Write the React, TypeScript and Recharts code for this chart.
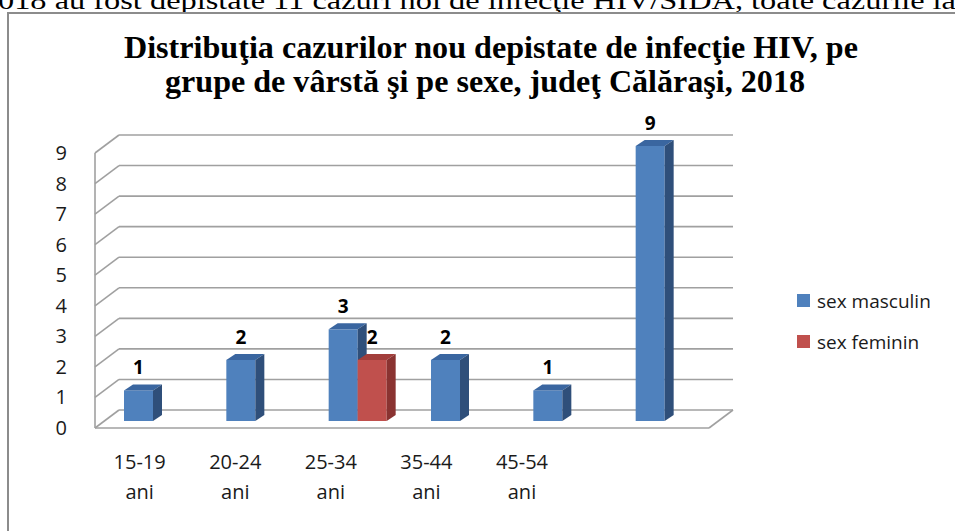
import React from "react";
import { BarChart, Bar, XAxis, YAxis, CartesianGrid, Legend, LabelList, Customized } from "recharts";

const categories = ["15-19 ani", "20-24 ani", "25-34 ani", "35-44 ani", "45-54 ani", ""];
const masculin = [1, 2, 3, 2, 1, 9];
const feminin: (number | null)[] = [null, null, 2, null, null, null];
const yTicks = [0, 1, 2, 3, 4, 5, 6, 7, 8, 9];
const seriesNames = ["sex masculin", "sex feminin"];

const pageText = "018 au fost depistate 11 cazuri noi de infecţie HIV/SIDA, toate cazurile la";
const titleLines = [
  "Distribuţia cazurilor nou depistate de infecţie HIV, pe",
  "grupe de vârstă şi pe sexe, judeţ Călăraşi, 2018",
];

const data = categories.map((name, i) => ({ name, masculin: masculin[i], feminin: feminin[i] }));

const W = 955;
const H = 531;
const Y_AXIS_W = 60;
const X_AXIS_H = 30;
// plot area: left 102, right 716, top 146, bottom 421
const margin = { top: 146, right: 239, bottom: 110 - X_AXIS_H, left: 102 - Y_AXIS_W };
const PLOT_TOP = 146;
const PLOT_BOTTOM = 421;

// 3d offsets: front plane and back wall relative to the bar plane
const FX = 7, FY = 7;
const BX = 17, BY = 11;
// bar depth
const DX = 9, DY = 6;

const gridColor = "#a0a0a0";
const font = "'Open Sans', 'Noto Sans', sans-serif";

const gridLine = (props: any) => {
  const { x1, y1, x2, index } = props;
  const isFloor = y1 >= PLOT_BOTTOM - 0.5;
  return (
    <g key={`g-${index}-${y1}`}>
      <line x1={x1 + BX} y1={y1 - BY} x2={x2 + BX} y2={y1 - BY} stroke={gridColor} strokeWidth={1.6} />
      <line x1={x1 - FX} y1={y1 + FY} x2={x1 + BX} y2={y1 - BY} stroke={gridColor} strokeWidth={1.6} />
      {isFloor && (
        <>
          <line x1={x1 - FX} y1={y1 + FY} x2={x2 - FX} y2={y1 + FY} stroke={gridColor} strokeWidth={1.6} />
          <line x1={x2 - FX} y1={y1 + FY} x2={x2 + BX} y2={y1 - BY} stroke={gridColor} strokeWidth={1.6} />
          <line x1={x1 - FX} y1={y1 + FY} x2={x1 - FX} y2={PLOT_TOP + FY} stroke={gridColor} strokeWidth={1.6} />
        </>
      )}
    </g>
  );
};

const makeBar = (front: string, top: string, side: string) => (props: any) => {
  const { x, y, width, height } = props;
  if (!height || height <= 0) return <g />;
  return (
    <g>
      <rect x={x} y={y} width={width} height={height} fill={front} />
      <polygon points={`${x},${y} ${x + DX},${y - DY} ${x + width + DX},${y - DY} ${x + width},${y}`} fill={top} />
      <polygon
        points={`${x + width},${y} ${x + width + DX},${y - DY} ${x + width + DX},${y + height - DY} ${x + width},${y + height}`}
        fill={side}
      />
    </g>
  );
};

const BarLabel = (props: any) => {
  const { x, y, width, value } = props;
  if (value == null || value === 0) return null;
  return (
    <text x={x + width / 2} y={y - 16} textAnchor="middle" fontFamily={font} fontWeight={700} fontSize={19} fill="#000">
      {value}
    </text>
  );
};

const YTick = (props: any) => {
  const { x, y, payload } = props;
  return (
    <text x={x - 27} y={y + FY + 7} textAnchor="end" fontFamily={font} fontSize={20} fill="#1a1a1a">
      {payload.value}
    </text>
  );
};

const XTick = (props: any) => {
  const { x, y, payload } = props;
  const [a, b] = String(payload.value).split(" ");
  // labels sit on the front edge, slightly compressed by the perspective
  const lx = 139.5 + (x - 153) * 0.934;
  return (
    <g>
      <text x={lx} y={y + 40} textAnchor="middle" fontFamily={font} fontSize={20} fill="#1a1a1a">{a}</text>
      <text x={lx} y={y + 70} textAnchor="middle" fontFamily={font} fontSize={20} fill="#1a1a1a">{b}</text>
    </g>
  );
};

const LegendContent = (props: any) => {
  const items = [...(props.payload || [])].sort(
    (a: any, b: any) => seriesNames.indexOf(a.value) - seriesNames.indexOf(b.value)
  );
  return (
    <div style={{ fontFamily: font, fontSize: 19, color: "#1a1a1a" }}>
      {items.map((p: any) => (
        <div key={p.value} style={{ display: "flex", alignItems: "center", height: 41 }}>
          <span style={{ display: "inline-block", width: 13, height: 13, background: p.color, marginRight: 7 }} />
          <span>{p.value}</span>
        </div>
      ))}
    </div>
  );
};

const Title = () => (
  <g>
    <text x={491} y={58} textAnchor="middle" fontFamily="'Liberation Serif', serif" fontWeight={700} fontSize={31}
      textLength={734} lengthAdjust="spacingAndGlyphs">{titleLines[0]}</text>
    <text x={485} y={92} textAnchor="middle" fontFamily="'Liberation Serif', serif" fontWeight={700} fontSize={31}
      textLength={640} lengthAdjust="spacingAndGlyphs">{titleLines[1]}</text>
  </g>
);

export default function App() {
  return (
    <div style={{ position: "absolute", left: 0, top: 0, width: W, height: H, overflow: "hidden", background: "#fff" }}>
      <svg width={W} height={20} style={{ position: "absolute", left: 0, top: 0 }}>
        <text x={-2} y={9} fontFamily="'Liberation Serif', serif" fontSize={25} textLength={958} lengthAdjust="spacingAndGlyphs">
          {pageText}
        </text>
      </svg>
      <div style={{ position: "absolute", left: 7, top: 12, width: 980, height: 560, borderLeft: "2px solid #8c8c8c", borderTop: "2px solid #8c8c8c" }} />
      <div style={{ position: "absolute", left: 0, top: 0 }}>
        <BarChart width={W} height={H} data={data} margin={margin} barGap={0}>
          <Customized component={Title} />
          <CartesianGrid vertical={false} horizontal={gridLine} />
          <XAxis dataKey="name" axisLine={false} tickLine={false} tick={<XTick />} interval={0} height={X_AXIS_H} />
          <YAxis domain={[0, 9]} ticks={yTicks} interval={0} axisLine={false} tickLine={false} tick={<YTick />} width={Y_AXIS_W} />
          <Legend layout="vertical" align="center" verticalAlign="middle" content={<LegendContent />}
            wrapperStyle={{ left: 797, top: 280, width: 160 }} />
          <Bar dataKey="masculin" name="sex masculin" fill="#4f81bd" barSize={29} isAnimationActive={false}
            shape={makeBar("#4f81bd", "#3a66a0", "#2f4f7a")}>
            <LabelList dataKey="masculin" content={<BarLabel />} />
          </Bar>
          <Bar dataKey="feminin" name="sex feminin" fill="#c0504d" barSize={29} isAnimationActive={false}
            shape={makeBar("#c0504d", "#a23e3b", "#8a3331")}>
            <LabelList dataKey="feminin" content={<BarLabel />} />
          </Bar>
        </BarChart>
      </div>
    </div>
  );
}
